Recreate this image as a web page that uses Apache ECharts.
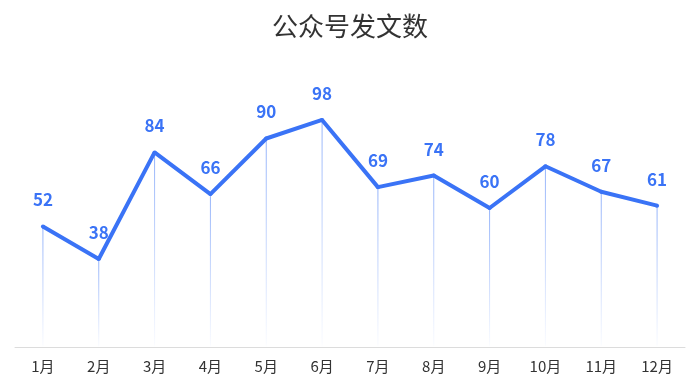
<!DOCTYPE html>
<html>
<head>
<meta charset="utf-8">
<script src="https://cdn.jsdelivr.net/npm/echarts@6/dist/echarts.min.js"></script>
<style>html,body{margin:0;padding:0;background:#fff}#c{width:700px;height:388px}</style>
</head>
<body>
<div id="c"></div>
<script>
const categories = ['1月','2月','3月','4月','5月','6月','7月','8月','9月','10月','11月','12月'];
const values = [52, 38, 84, 66, 90, 98, 69, 74, 60, 78, 67, 61];
const titleText = '公众号发文数';
const blue = '#3a73f6';
const chart = echarts.init(document.getElementById('c'));
chart.setOption({
  backgroundColor: '#fff',
  title: {
    text: titleText, left: 'center', top: 8,
    textStyle: { fontSize: 26, fontWeight: 'normal', color: '#333', fontFamily: 'Noto Sans CJK SC' }
  },
  grid: { left: 15, right: 15, top: 69, bottom: 41, containLabel: false },
  xAxis: {
    type: 'category', data: categories, boundaryGap: true,
    axisLine: { lineStyle: { color: '#dcdcdc', width: 1 } },
    axisTick: { show: false },
    axisLabel: { color: '#333', fontSize: 15, margin: 12, fontFamily: 'Noto Sans CJK SC' }
  },
  yAxis: { type: 'value', min: 0, max: 120, show: false, splitLine: { show: false } },
  series: [
    {
      type: 'bar', data: values, barWidth: 1, silent: true,
      itemStyle: {
        color: new echarts.graphic.LinearGradient(0, 0, 0, 1, [
          { offset: 0, color: 'rgba(58,115,246,0.55)' },
          { offset: 0.98, color: 'rgba(58,115,246,0.03)' },
          { offset: 1, color: 'rgba(58,115,246,0)' }
        ])
      }
    },
    {
      type: 'line', data: values, symbol: 'circle', symbolSize: 4, showSymbol: true,
      itemStyle: { color: blue },
      lineStyle: { color: blue, width: 4 },
      label: {
        show: true, position: 'top', distance: 16, color: blue,
        fontSize: 17, fontWeight: 'bold', fontFamily: 'Noto Sans CJK SC'
      },
      z: 3
    }
  ]
});
</script>
</body>
</html>
